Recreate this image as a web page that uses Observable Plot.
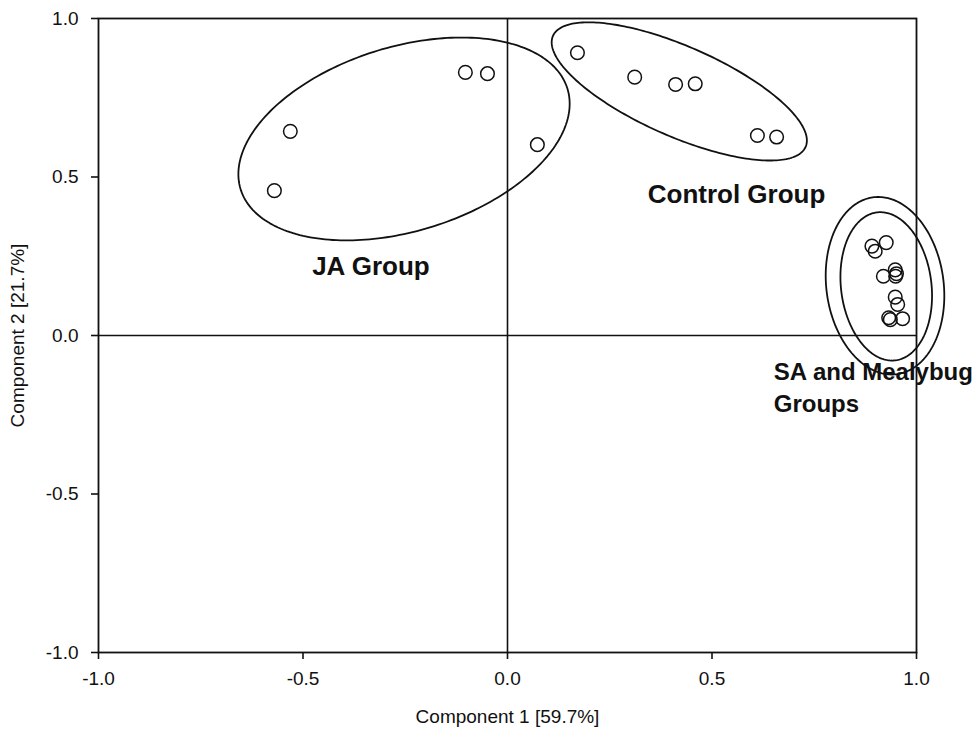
<!DOCTYPE html>
<html>
<head>
<meta charset="utf-8">
<script src="https://cdn.jsdelivr.net/npm/d3@7"></script>
<script src="https://cdn.jsdelivr.net/npm/@observablehq/plot@0.6"></script>
<style>
  html, body { margin: 0; padding: 0; background: #fff; }
</style>
</head>
<body>
<div id="chart"></div>
<script>
// ---- Data ----
const pointGroup = [
  "JA","JA","JA","JA","JA",
  "Control","Control","Control","Control","Control","Control",
  "SA","SA","SA","SA","SA","SA","SA","SA","SA","SA","SA","SA"
];
const pointX = [
  -0.570, -0.531, -0.103, -0.049, 0.073,
  0.171, 0.311, 0.411, 0.459, 0.611, 0.658,
  0.891, 0.899, 0.926, 0.919, 0.948, 0.949, 0.951, 0.948, 0.954, 0.932, 0.936, 0.966
];
const pointY = [
  0.457, 0.644, 0.830, 0.826, 0.602,
  0.892, 0.815, 0.792, 0.794, 0.631, 0.626,
  0.282, 0.266, 0.293, 0.187, 0.207, 0.187, 0.195, 0.121, 0.098, 0.056, 0.050, 0.053
];

// Group ellipses: centre, half-extent in x and y, phase (degrees) of y relative to x
const ellipseId    = ["JA", "Control", "SA outer", "SA inner"];
const ellipseCx    = [-0.253, 0.420, 0.923, 0.926];
const ellipseCy    = [0.620, 0.770, 0.157, 0.155];
const ellipseRx    = [0.405, 0.312, 0.145, 0.112];
const ellipseRy    = [0.320, 0.218, 0.280, 0.234];
const ellipsePhase = [69.7, 135.3, 96.5, 97.3];

// Group labels
const labelText = ["JA Group", "Control Group", "SA and Mealybug\nGroups"];
const labelX    = [-0.334, 0.560, 0.651];
const labelY    = [0.218, 0.444, -0.158];
const labelAnchor = ["middle", "middle", "start"];

// Axis ticks
const xTicks = [-1, -0.5, 0, 0.5, 1];
const yTicks = [-1, -0.5, 0, 0.5, 1];
const xTitle = "Component 1 [59.7%]";
const yTitle = "Component 2 [21.7%]";

// ---- Build tables ----
const points = pointX.map((x, i) => ({x, y: pointY[i], group: pointGroup[i]}));
const labels = labelText.map((t, i) => ({text: t, x: labelX[i], y: labelY[i], anchor: labelAnchor[i]}));
const outline = [];
ellipseId.forEach((id, k) => {
  const d = ellipsePhase[k] * Math.PI / 180;
  const n = 240;
  for (let j = 0; j < n; j++) {
    const t = 2 * Math.PI * j / n;
    outline.push({
      id,
      x: ellipseCx[k] + ellipseRx[k] * Math.cos(t),
      y: ellipseCy[k] + ellipseRy[k] * Math.cos(t - d)
    });
  }
});

const font = "'Liberation Sans', Arial, Helvetica, sans-serif";
const fmt = d => d.toFixed(1);

const chart = Plot.plot({
  width: 972,
  height: 731,
  marginLeft: 98,
  marginRight: 56,
  marginTop: 18,
  marginBottom: 79,
  style: {fontFamily: font, fontSize: "19px", color: "#111", background: "#fff"},
  x: {domain: [-1, 1]},
  y: {domain: [-1, 1]},
  marks: [
    Plot.ruleX([0], {stroke: "#111", strokeWidth: 1.6}),
    Plot.ruleY([0], {stroke: "#111", strokeWidth: 1.6}),
    Plot.line(outline, {x: "x", y: "y", z: "id", curve: "linear-closed", stroke: "#111", strokeWidth: 1.8}),
    Plot.dot(points, {x: "x", y: "y", r: 6.8, stroke: "#111", strokeWidth: 1.5, fill: "none"}),
    Plot.text(labels.filter(d => d.anchor === "middle"), {
      x: "x", y: "y", text: "text", textAnchor: "middle",
      fontSize: 26, fontWeight: "bold", fill: "#111"
    }),
    Plot.text(labels.filter(d => d.anchor === "start"), {
      x: "x", y: "y", text: "text", textAnchor: "start", lineHeight: 1.36,
      fontSize: 24, fontWeight: "bold", fill: "#111"
    }),
    Plot.axisX({
      ticks: xTicks, tickFormat: fmt, tickSize: 7, tickPadding: 12,
      fontSize: 19, stroke: "#111", strokeWidth: 1.6,
      label: xTitle, labelAnchor: "center", labelOffset: 70, labelArrow: "none"
    }),
    Plot.axisY({
      ticks: yTicks, tickFormat: fmt, tickSize: 7, tickPadding: 13,
      fontSize: 19, stroke: "#111", strokeWidth: 1.6,
      label: yTitle, labelAnchor: "center", labelOffset: 88, labelArrow: "none"
    }),
    Plot.frame({stroke: "#111", strokeWidth: 1.8})
  ]
});
document.getElementById("chart").append(chart);
</script>
</body>
</html>
